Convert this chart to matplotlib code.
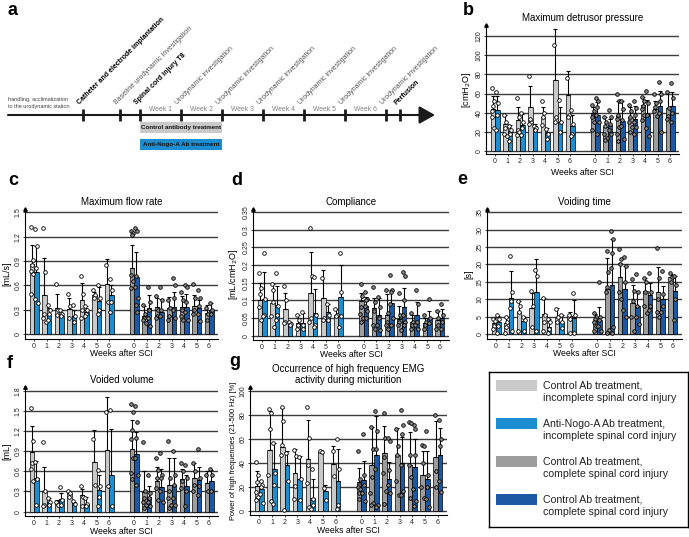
import matplotlib.pyplot as plt
from matplotlib.patches import Rectangle

plt.rcParams['font.family'] = ['Liberation Sans', 'DejaVu Sans']

W, H = 689, 537

weeks = [0, 1, 2, 3, 4, 5, 6]
week_labels = ['0', '1', '2', '3', '4', '5', '6']
series_names = ['Control Ab treatment,\nincomplete spinal cord injury',
                'Anti-Nogo-A Ab treatment,\nincomplete spinal cord injury',
                'Control Ab treatment,\ncomplete spinal cord injury',
                'Control Ab treatment,\ncomplete spinal cord injury']
series_colors = ['#c9c9c9', '#1b8dd0', '#9d9d9d', '#1c58a4']
point_fill = ['white', 'white', '#8a8a8a', '#8a8a8a']

# timeline (panel a), positions in weeks relative to SCI
tl_events = ['Catheter and electrode implantation', 'Baseline urodynamic investigation',
             'Spinal cord injury T8', 'Urodynamic investigation', 'Urodynamic investigation',
             'Urodynamic investigation', 'Urodynamic investigation', 'Urodynamic investigation',
             'Urodynamic investigation', 'Perfusion']
tl_weeks = [-1.39, -0.49, 0, 1, 2, 3, 4, 5, 6, 6.34]
tl_bold = [True, False, True, False, False, False, False, False, False, True]

# b: maximum detrusor pressure [cmH2O]
pdet_mean = [[44, 28, 32, 46, 36, 74, 58],
             [43, 21, 27, 26, 19, 30, 26],
             [40, 25, 37, 35, 48, 44, 45],
             [38, 27, 31, 33, 39, 47, 47]]
pdet_top = [[57, 38, 46, 68, 46, 127, 84],
            [57, 27, 39, 28, 24, 46, 38],
            [46, 36, 52, 46, 56, 52, 62],
            [51, 33, 52, 47, 53, 63, 62]]
pdet_pts = [[[66, 52, 47, 35, 24, 42], [38, 30, 24, 18, 16], [55, 35, 22, 17, 20], [78, 30, 33, 28],
             [52, 40, 35, 27], [111, 36, 30], [76, 38, 36]],
            [[62, 50, 38, 22], [26, 22, 18, 10], [40, 30, 24, 17], [26, 24, 22], [23, 18, 13],
             [53, 30, 20], [43, 28, 18, 16]],
            [[48, 42, 37, 35, 30, 22], [36, 30, 26, 18, 14, 12], [59, 52, 38, 33, 25, 18, 10],
             [48, 42, 36, 30, 25, 20], [56, 52, 47, 44, 38, 32], [60, 50, 46, 42, 37], [62, 45, 37, 33]],
            [[55, 52, 46, 38, 30, 18], [43, 35, 28, 22, 18], [52, 44, 32, 26, 13], [52, 45, 38, 30, 25, 18],
             [63, 50, 38, 24, 16], [72, 60, 52, 40, 20], [71, 55, 40, 30]]]

# c: maximum flow rate [mL/s]
qmax_mean = [[0.86, 0.48, 0.32, 0.31, 0.42, 0.48, 0.62],
             [0.76, 0.25, 0.23, 0.23, 0.28, 0.41, 0.48],
             [0.82, 0.23, 0.33, 0.32, 0.34, 0.35, 0.26],
             [0.70, 0.32, 0.27, 0.33, 0.34, 0.32, 0.30]]
qmax_top = [[1.10, 0.94, 0.49, 0.45, 0.63, 0.52, 0.93],
            [1.08, 0.32, 0.30, 0.30, 0.35, 0.58, 0.60],
            [1.10, 0.35, 0.45, 0.46, 0.47, 0.48, 0.36],
            [1.01, 0.48, 0.43, 0.52, 0.50, 0.42, 0.38]]
qmax_pts = [[[1.32, 0.91, 0.85, 0.78, 0.74, 0.50], [1.31, 0.77, 0.25, 0.20, 0.15], [0.62, 0.30, 0.24],
             [0.50, 0.35, 0.20], [0.72, 0.50, 0.30, 0.20], [0.55, 0.48, 0.45], [0.85, 0.40]],
            [[1.30, 1.08, 0.81, 0.43, 0.38], [0.36, 0.30, 0.25, 0.18], [0.30, 0.25, 0.22], [0.36, 0.22, 0.15],
             [0.35, 0.30, 0.25, 0.22], [0.60, 0.45, 0.30, 0.25], [0.68, 0.55, 0.40, 0.28]],
            [[1.27, 1.24, 1.22, 0.73, 0.65, 0.57], [0.36, 0.25, 0.20, 0.17, 0.14], [0.47, 0.30, 0.22, 0.20],
             [0.42, 0.32, 0.22, 0.18], [0.52, 0.42, 0.30, 0.22, 0.18], [0.62, 0.45, 0.30, 0.25], [0.32, 0.25, 0.18]],
            [[1.31, 1.27, 0.72, 0.58, 0.45, 0.36, 0.28], [0.58, 0.40, 0.30, 0.20, 0.10], [0.58, 0.42, 0.30, 0.22],
             [0.69, 0.60, 0.45, 0.30, 0.20], [0.61, 0.58, 0.40, 0.28, 0.18], [0.55, 0.45, 0.35, 0.25, 0.16],
             [0.38, 0.30, 0.25]]]

# d: compliance [mL/cmH2O]
comp_mean = [[0.100, 0.093, 0.077, 0.035, 0.120, 0.108, 0.060],
             [0.103, 0.088, 0.035, 0.037, 0.065, 0.066, 0.110],
             [0.097, 0.078, 0.060, 0.048, 0.038, 0.036, 0.045],
             [0.083, 0.059, 0.092, 0.080, 0.060, 0.050, 0.050]]
comp_top = [[0.150, 0.145, 0.120, 0.058, 0.238, 0.186, 0.075],
            [0.180, 0.142, 0.040, 0.065, 0.133, 0.090, 0.200],
            [0.120, 0.108, 0.118, 0.085, 0.058, 0.050, 0.070],
            [0.110, 0.108, 0.130, 0.135, 0.095, 0.070, 0.075]]
comp_pts = [[[0.178, 0.135, 0.118, 0.08, 0.045], [0.145, 0.128, 0.095, 0.055, 0.025], [0.14, 0.10, 0.04, 0.035],
             [0.06, 0.045, 0.03, 0.02], [0.305, 0.17, 0.05, 0.04], [0.163, 0.05, 0.045], [0.075, 0.06, 0.055]],
            [[0.235, 0.105, 0.06, 0.055], [0.178, 0.085, 0.06, 0.045], [0.038, 0.032, 0.03], [0.068, 0.03, 0.02],
             [0.165, 0.06, 0.03, 0.025], [0.09, 0.06, 0.045], [0.235, 0.123, 0.055, 0.025]],
            [[0.145, 0.112, 0.08, 0.062, 0.05, 0.04], [0.138, 0.095, 0.07, 0.03, 0.02], [0.13, 0.065, 0.04, 0.03, 0.02],
             [0.12, 0.06, 0.04, 0.03, 0.015], [0.065, 0.04, 0.03, 0.02], [0.06, 0.04, 0.03, 0.02],
             [0.07, 0.05, 0.03, 0.02]],
            [[0.125, 0.105, 0.1, 0.085, 0.07, 0.05], [0.11, 0.08, 0.05, 0.03, 0.015],
             [0.173, 0.128, 0.125, 0.09, 0.05, 0.03], [0.18, 0.17, 0.1, 0.06, 0.04, 0.03],
             [0.13, 0.09, 0.04, 0.03, 0.02], [0.105, 0.05, 0.035], [0.09, 0.06, 0.04, 0.02]]]

# e: voiding time [s]
vt_mean = [[3.3, 3.2, 6.5, 7.5, 5.8, 5.0, 5.3],
           [3.6, 10.3, 3.8, 12.0, 2.1, 3.4, 4.8],
           [3.8, 13.0, 16.3, 9.0, 12.4, 12.2, 16.3],
           [4.2, 14.2, 13.0, 8.0, 11.2, 10.0, 12.3]]
vt_top = [[4.6, 5.0, 9.5, 11.8, 10.3, 7.5, 6.3],
          [5.2, 18.0, 5.0, 21.6, 4.3, 5.5, 9.8],
          [5.8, 21.8, 20.5, 14.0, 16.2, 19.4, 17.3],
          [7.9, 27.2, 19.6, 12.3, 14.8, 13.9, 16.6]]
vt_pts = [[[4.5, 3.8, 2.5, 1.5], [5.0, 3.5, 2.0, 0.5], [9.5, 8.0, 6.5, 1.0], [12.5, 8.0, 2.0],
           [10.3, 5.5, 3.5, 1.0], [7.2, 5.0, 3.5], [5.5, 4.5, 0.5]],
          [[5.5, 4.5, 2.5, 0.5], [22.4, 12.0, 9.5, 7.5, 0.8], [5.0, 4.0, 1.0], [18.5, 16.8, 1.0],
           [4.5, 3.5, 1.5, 0.5], [5.5, 3.5, 1.8], [11.7, 5.5, 0.5]],
          [[6.0, 5.0, 4.5, 3.5, 2.5, 1.0], [23.8, 17.8, 13.5, 12.0, 1.2, 0.5], [24.3, 21.7, 20.0, 12.0, 10.0],
           [15.7, 12.5, 9.5, 5.0, 1.0], [16.0, 15.0, 12.0, 8.0, 6.0], [24.8, 16.0, 10.0, 6.5, 5.0],
           [17.5, 16.5, 15.0]],
          [[15.0, 5.0, 4.0, 2.5, 1.0], [29.5, 27.3, 23.3, 19.0, 2.0, 0.5], [22.2, 19.5, 15.0, 7.0, 5.0],
           [17.4, 12.0, 8.0, 5.0, 3.0], [17.5, 12.0, 8.0, 7.0], [18.0, 11.5, 8.0, 6.5], [16.7, 14.0, 10.0, 4.0]]]

# f: voided volume [mL]
vv_mean = [[0.89, 0.31, 0.16, 0.28, 0.25, 0.74, 0.92],
           [0.50, 0.14, 0.19, 0.13, 0.12, 0.32, 0.55],
           [0.93, 0.29, 0.46, 0.40, 0.48, 0.50, 0.42],
           [0.86, 0.22, 0.37, 0.40, 0.38, 0.47, 0.45]]
vv_top = [[1.28, 0.67, 0.18, 0.30, 0.33, 1.21, 1.70],
          [0.75, 0.20, 0.28, 0.15, 0.22, 0.55, 1.23],
          [1.36, 0.61, 0.66, 0.80, 0.64, 0.72, 0.60],
          [1.18, 0.38, 0.63, 0.80, 0.55, 0.67, 0.62]]
vv_pts = [[[1.54, 1.05, 0.72, 0.64, 0.45], [1.03, 0.30, 0.10, 0.08], [0.14, 0.10], [0.31, 0.27, 0.22],
           [0.38, 0.22, 0.08], [1.08, 0.40], [1.48, 0.38]],
          [[0.74, 0.48, 0.10], [0.20, 0.15, 0.10], [0.36, 0.18, 0.10], [0.16, 0.12], [0.20, 0.12, 0.08],
           [0.62, 0.38, 0.22, 0.08], [1.52, 0.08]],
          [[1.60, 1.48, 1.22, 1.08, 0.80, 0.58, 0.48], [1.03, 0.30, 0.20, 0.15, 0.10, 0.05],
           [0.80, 0.62, 0.50, 0.35, 0.18], [1.05, 0.50, 0.30, 0.20, 0.10, 0.05], [0.72, 0.60, 0.45, 0.35],
           [0.73, 0.60, 0.40, 0.30], [0.55, 0.30]],
          [[1.57, 1.33, 1.10, 0.80, 0.55, 0.40], [0.55, 0.28, 0.20, 0.15, 0.08], [0.88, 0.55, 0.50, 0.30, 0.15],
           [0.90, 0.55, 0.40, 0.20, 0.10], [0.70, 0.50, 0.30, 0.08], [0.93, 0.50, 0.38, 0.25], [0.64, 0.55, 0.30]]]

# g: high frequency EMG power [%]
emg_mean = [[21, 51, 53, 32, 43, 50, 39],
            [18, 35, 38, 27, 11, 17, 25],
            [24, 38, 48, 47, 38, 30, 45],
            [26, 47, 27, 40, 37, 27, 47]]
emg_top = [[33, 83, 86, 52, 76, 51, 54],
           [25, 57, 50, 46, 27, 22, 52],
           [36, 70, 71, 69, 66, 50, 75],
           [42, 79, 41, 62, 60, 50, 69]]
emg_pts = [[[41, 30, 24, 16, 12, 9], [85, 82, 68, 30, 8], [87, 75, 55, 47, 1], [51, 46, 21, 10],
            [87, 61, 38, 23, 3], [50, 49], [50, 29]],
           [[25, 22, 20, 14, 7], [57, 32, 22, 6], [48, 25], [45, 27, 9], [35, 10, 5, 2], [19, 9], [60, 35, 5, 2]],
           [[50, 27, 22, 20, 18, 15, 10], [70, 52, 28, 15, 7, 5], [82, 61, 45, 32, 17, 6], [68, 54, 47, 25, 13],
            [74, 73, 47, 38, 28, 11], [55, 54, 40, 20, 11], [80, 33, 20]],
           [[64, 30, 22, 15, 8], [83, 67, 52, 35, 5, 3], [61, 58, 34, 22, 15], [84, 72, 64, 38, 17, 13],
            [72, 68, 47, 18, 8, 4], [67, 30, 20, 10, 3], [76, 60, 54, 25, 16]]]

fig = plt.figure(figsize=(W / 100, H / 100), dpi=100)


def px_axes(l, t, r, b):
    return fig.add_axes([l / W, 1 - b / H, (r - l) / W, (b - t) / H])


jitter = [-0.07, 0.07, 0.0, -0.1, 0.1, -0.035, 0.035]


def bar_panel(ax, means, tops, points, ylim, yticks, yticklabels, title, ylabel,
              xlabel_gap, ylabel_size=6.5):
    for s in range(4):
        base = 0 if s < 2 else 8
        shift = -0.18 if s % 2 == 0 else 0.18
        xs = [base + w + shift for w in weeks]
        ax.bar(xs, means[s], width=0.36, color=series_colors[s], edgecolor='black', linewidth=0.5, zorder=2)
        err = [t - m for t, m in zip(tops[s], means[s])]
        ax.errorbar(xs, means[s], yerr=[[0] * len(err), err], fmt='none', ecolor='black',
                    elinewidth=0.8, capsize=1.6, capthick=0.8, zorder=3)
        for x, vals in zip(xs, points[s]):
            for k, v in enumerate(vals):
                ax.plot(x + jitter[k % len(jitter)], v, 'o', ms=2.6, mfc=point_fill[s], mec='black',
                        mew=0.6, zorder=4, clip_on=False)
    ax.set_xlim(-0.72, 14.72)
    ax.set_ylim(*ylim)
    ax.set_xticks(weeks + [w + 8 for w in weeks])
    ax.set_xticklabels(week_labels + week_labels)
    ax.set_yticks(yticks)
    ax.set_yticklabels(yticklabels)
    for lbl in ax.get_yticklabels():
        lbl.set_rotation(90)
        lbl.set_va('center')
    ax.yaxis.grid(True, color='#3c3c3c', lw=1.0)
    ax.set_axisbelow(True)
    ax.spines['top'].set_visible(False)
    ax.spines['right'].set_visible(False)
    ax.spines['left'].set_linewidth(0.8)
    ax.spines['bottom'].set_linewidth(0.8)
    ax.tick_params(axis='both', labelsize=5, length=1.6, width=0.6, pad=1.0, colors='#222')
    ax.plot(0, 1, marker='^', color='black', ms=2.5, transform=ax.transAxes, clip_on=False)
    ax.set_title(title, fontsize=7, pad=3, linespacing=1.1)
    ax.set_xlabel('Weeks after SCI', fontsize=6.2, va='center')
    h_px = ax.get_position().height * H
    ax.xaxis.set_label_coords(0.5, -xlabel_gap / h_px)
    ax.set_ylabel(ylabel, fontsize=ylabel_size, labelpad=2)


# panel a: experimental timeline
ax_a = px_axes(0, 0, 465, 160)
ax_a.set_xlim(-140 / 41, 325 / 41)
ax_a.set_ylim(160, 0)
ax_a.axis('off')
ax_a.annotate('', xy=(7.195, 115), xytext=(-3.22, 115),
              arrowprops=dict(arrowstyle='-|>,head_length=0.8,head_width=0.45', mutation_scale=12,
                              lw=1.5, color='#1a1a1a', shrinkA=0, shrinkB=0))
ax_a.vlines(tl_weeks, 109, 121, color='#1a1a1a', lw=2)
for wk, label, bold in zip(tl_weeks, tl_events, tl_bold):
    ax_a.text(wk - 0.05, 106, label, rotation=45, rotation_mode='anchor', ha='left', va='bottom',
              fontsize=5.0, fontweight='bold' if bold else 'normal', color='black' if bold else '#555')
for w in range(1, 7):
    ax_a.text(w - 0.5, 109.5, 'Week %d' % w, ha='center', va='center', fontsize=4.9, color='#808080')
ax_a.text(-3.22, 103, 'handling, acclimatization\nto the urodynamic station', ha='left', va='center',
          fontsize=4.0, color='#444', linespacing=1.6)
ax_a.add_patch(Rectangle((0, 122), 2, 11, fc='#c9c9c9', ec='none'))
ax_a.text(1, 127.5, 'Control antibody treatment', ha='center', va='center', fontsize=4.5,
          fontweight='bold', color='#111')
ax_a.add_patch(Rectangle((0, 139), 2, 11, fc='#1b8dd0', ec='none'))
ax_a.text(1, 144.5, 'Anti-Nogo-A Ab treatment', ha='center', va='center', fontsize=4.5,
          fontweight='bold', color='#111')

ax_b = px_axes(486, 25, 679, 154)
bar_panel(ax_b, pdet_mean, pdet_top, pdet_pts, (-3.1, 131.5), [0, 20, 40, 60, 80, 100, 120],
          ['0', '20', '40', '60', '80', '100', '120'], 'Maximum detrusor pressure', '[cmH$_2$O]', 18.5)

ax_c = px_axes(25, 209, 218, 339)
bar_panel(ax_c, qmax_mean, qmax_top, qmax_pts, (-0.058, 1.54), [0, 0.3, 0.6, 0.9, 1.2, 1.5],
          ['0', '0.3', '0.6', '0.9', '1.2', '1.5'], 'Maximum flow rate', '[mL/s]', 15)

ax_d = px_axes(253, 209, 449, 340)
bar_panel(ax_d, comp_mean, comp_top, comp_pts, (-0.012, 0.3585),
          [0, 0.05, 0.1, 0.15, 0.2, 0.25, 0.3, 0.35],
          ['0', '0.05', '0.1', '0.15', '0.2', '0.25', '0.3', '0.35'], 'Compliance', '[mL/cmH$_2$O]', 14.5)

ax_e = px_axes(487, 209, 682, 339)
bar_panel(ax_e, vt_mean, vt_top, vt_pts, (-1.35, 35.9), [0, 5, 10, 15, 20, 25, 30, 35],
          ['0', '5', '10', '15', '20', '25', '30', '35'], 'Voiding time', '[s]', 15)

ax_f = px_axes(25, 387, 218, 516)
bar_panel(ax_f, vv_mean, vv_top, vv_pts, (-0.065, 1.855), [0, 0.3, 0.6, 0.9, 1.2, 1.5, 1.8],
          ['0', '0.3', '0.6', '0.9', '1.2', '1.5', '1.8'], 'Voided volume', '[mL]', 15)

ax_g = px_axes(250, 387, 447, 515)
bar_panel(ax_g, emg_mean, emg_top, emg_pts, (-3.3, 103.3), [0, 20, 40, 60, 80, 100],
          ['0', '20', '40', '60', '80', '100'],
          'Occurrence of high frequency EMG\nactivity during micturition',
          'Power of high frequencies (21-500 Hz) [%]', 15.5, ylabel_size=5.3)

# legend box
ax_l = px_axes(489, 372, 688, 527)
ax_l.set_xlim(0, 199)
ax_l.set_ylim(155, 0)
ax_l.set_xticks([])
ax_l.set_yticks([])
for sp in ax_l.spines.values():
    sp.set_linewidth(1.0)
for i, (name, col) in enumerate(zip(series_names, series_colors)):
    y0 = 7.6 + 38 * i
    ax_l.add_patch(Rectangle((7.4, y0), 40.6, 11.4, fc=col, ec='none'))
    ax_l.text(54, y0 + 12.4, name, ha='left', va='center', fontsize=7.6, linespacing=1.3, color='#222')

# panel letters
for letter, x, y in [('a', 8, 15), ('b', 463, 15), ('c', 8, 185), ('d', 231, 185),
                     ('e', 457, 184), ('f', 7, 368), ('g', 229, 366)]:
    fig.text(x / W, 1 - y / H, letter, fontsize=13, fontweight='bold', va='baseline', ha='left')

fig.savefig('out.png', dpi=100)
